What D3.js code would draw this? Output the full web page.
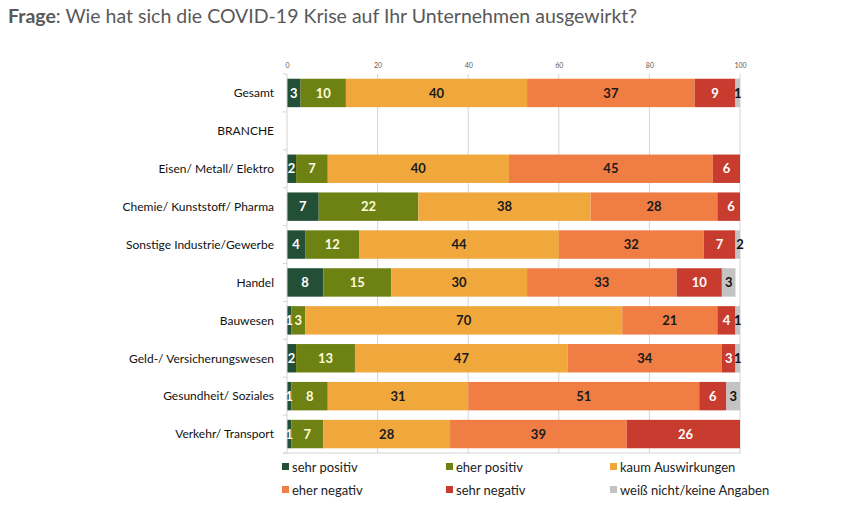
<!DOCTYPE html>
<html>
<head>
<meta charset="utf-8">
<script src="https://cdn.jsdelivr.net/npm/d3@7"></script>
<style>
body { margin: 0; background: #fff; }
</style>
</head>
<body>
<div></div>
<script>
const width = 850, height = 513
const svg = d3.select("div")
    .append("svg")
    .attr("xmlns", "http://www.w3.org/2000/svg")
    .attr("width", width)
    .attr("height", height)

// data
const categories = ["Gesamt", "BRANCHE", "Eisen/ Metall/ Elektro", "Chemie/ Kunststoff/ Pharma",
    "Sonstige Industrie/Gewerbe", "Handel", "Bauwesen", "Geld-/ Versicherungswesen",
    "Gesundheit/ Soziales", "Verkehr/ Transport"]
const seriesNames = ["sehr positiv", "eher positiv", "kaum Auswirkungen", "eher negativ", "sehr negativ", "weiß nicht/keine Angaben"]
const sehrPositiv  = [3, 0, 2, 7, 4, 8, 1, 2, 1, 1]
const eherPositiv  = [10, 0, 7, 22, 12, 15, 3, 13, 8, 7]
const kaum         = [40, 0, 40, 38, 44, 30, 70, 47, 31, 28]
const eherNegativ  = [37, 0, 45, 28, 32, 33, 21, 34, 51, 39]
const sehrNegativ  = [9, 0, 6, 6, 7, 10, 4, 3, 6, 26]
const weissNicht   = [1, 0, 0, 0, 2, 3, 1, 1, 3, 0]
const xTicks = [0, 20, 40, 60, 80, 100]

const seriesValues = [sehrPositiv, eherPositiv, kaum, eherNegativ, sehrNegativ, weissNicht]
const colors = ["#244f37", "#6e8214", "#f0a83d", "#ef7d44", "#c73c2f", "#c3c3c3"]
const labelColors = ["#ffffff", "#fffbdc", "#1a1a1a", "#1a1a1a", "#ffffff", "#111111"]
const font = "Lato, 'Open Sans', sans-serif"

// stack rows
const rows = categories.map((c, i) => {
    const r = {cat: c}
    seriesNames.forEach((s, j) => r[s] = seriesValues[j][i])
    return r
})
const stacked = d3.stack().keys(seriesNames)(rows)

// scales
const x = d3.scaleLinear().domain([0, 100]).range([287, 740])
const y = d3.scaleBand().domain(categories).range([74, 453]).paddingInner(0.25).paddingOuter(0.125)

// title
const title = svg.append("text")
    .attr("x", 8).attr("y", 23)
    .attr("font-family", font)
    .attr("font-size", 19.5)
    .attr("fill", "#595959")
title.append("tspan").attr("font-weight", "bold").text("Frage")
title.append("tspan").text(": Wie hat sich die COVID-19 Krise auf Ihr Unternehmen ausgewirkt?")

// gridlines
svg.selectAll(".grid").data(xTicks.slice(1)).enter().append("line")
    .attr("x1", d => x(d)).attr("x2", d => x(d))
    .attr("y1", 74).attr("y2", 453)
    .attr("stroke", "#d4d4d4").attr("stroke-width", 1)

// top axis labels
const xAxis = svg.append("g")
    .attr("transform", "translate(0,74)")
    .call(d3.axisTop(x).tickValues(xTicks).tickSize(0).tickPadding(6))
xAxis.select(".domain").remove()
xAxis.selectAll("text")
    .attr("font-family", font).attr("font-size", 7).attr("fill", "#595959")

// clip at 100
svg.append("clipPath").attr("id", "plot")
    .append("rect").attr("x", x(0)).attr("y", 0).attr("width", x(100) - x(0)).attr("height", height)

// bars
const layers = svg.append("g").attr("clip-path", "url(#plot)")
    .selectAll("g").data(stacked).enter().append("g")
    .attr("fill", (d, i) => colors[i])
layers.selectAll("rect").data(d => d).enter().append("rect")
    .attr("x", d => x(d[0]))
    .attr("y", d => y(d.data.cat))
    .attr("width", d => x(d[1]) - x(d[0]))
    .attr("height", y.bandwidth())

// value labels
svg.append("g").selectAll("g").data(stacked).enter().append("g")
    .attr("fill", (d, i) => labelColors[i])
    .selectAll("text").data(d => d.filter(p => p[1] - p[0] > 0)).enter().append("text")
    .attr("x", d => x((d[0] + d[1]) / 2))
    .attr("y", d => y(d.data.cat) + y.bandwidth() / 2)
    .attr("dy", "0.36em")
    .attr("text-anchor", "middle")
    .attr("font-family", font)
    .attr("font-size", 13)
    .attr("font-weight", "bold")
    .text(d => d[1] - d[0])

// left axis line + category ticks
svg.append("line").attr("x1", x(0)).attr("x2", x(0)).attr("y1", 74).attr("y2", 453)
    .attr("stroke", "#d4d4d4")
svg.append("line").attr("x1", x(0) - 4).attr("x2", x(100) + 1).attr("y1", 453).attr("y2", 453)
    .attr("stroke", "#d4d4d4")
svg.selectAll(".ytick").data(d3.range(categories.length + 1)).enter().append("line")
    .attr("x1", x(0) - 4).attr("x2", x(0))
    .attr("y1", d => 74 + d * y.step()).attr("y2", d => 74 + d * y.step())
    .attr("stroke", "#d4d4d4")

// category labels
svg.selectAll(".cat").data(categories).enter().append("text")
    .attr("x", 274)
    .attr("y", d => y(d) + y.bandwidth() / 2)
    .attr("dy", "0.36em")
    .attr("text-anchor", "end")
    .attr("font-family", font)
    .attr("font-size", 12)
    .attr("fill", "#111")
    .text(d => d)

// legend
const legendX = [282, 446, 610]
const legendY = [467, 490]
const legend = svg.selectAll(".legend").data(seriesNames).enter().append("g")
    .attr("transform", (d, i) => `translate(${legendX[i % 3]},${legendY[Math.floor(i / 3)]})`)
legend.append("rect")
    .attr("x", 0).attr("y", -4).attr("width", 7).attr("height", 7)
    .attr("fill", (d, i) => colors[i])
legend.append("text")
    .attr("x", 10).attr("dy", "0.36em")
    .attr("font-family", font).attr("font-size", 13).attr("fill", "#222")
    .text(d => d)
</script>
</body>
</html>
